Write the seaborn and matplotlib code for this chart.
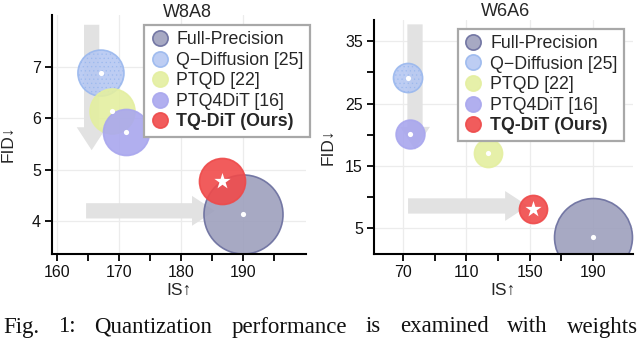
import numpy as np
import pandas as pd
import matplotlib
matplotlib.use("Agg")
import matplotlib.pyplot as plt
import seaborn as sns
from matplotlib.lines import Line2D

methods = ["Full-Precision", "Q\u2212Diffusion [25]", "PTQD [22]", "PTQ4DiT [16]", "TQ-DiT (Ours)"]
w8a8_is = [190.0, 167.1, 168.9, 171.1, 186.6]
w8a8_fid = [4.14, 6.88, 6.14, 5.73, 4.78]
w8a8_size = [3240, 1100, 1050, 1100, 1100]
w6a6_is = [190.0, 73.2, 123.7, 74.4, 152.3]
w6a6_fid = [3.7, 29.1, 17.1, 20.2, 8.1]
w6a6_size = [3150, 440, 410, 430, 410]

face_colors = ["#9ea0bd", "#b6c8f2", "#e4efa0", "#a9a7ee", "#f04a4a"]
edge_colors = ["#6a6e9e", "#9ab8ee", "#e4efa0", "#a9a7ee", "#ee4a4a"]

w8a8_xticks = [160, 170, 180, 190]
w8a8_yticks = [4, 5, 6, 7]
w6a6_xticks = [70, 110, 150, 190]
w6a6_yticks = [5, 15, 25, 35]

# arrows (start, tip) in data units
w8a8_arrows = [((165.6, 7.82), (165.6, 5.38)), ((164.7, 4.2), (185.5, 4.2))]
w6a6_arrows = [((77.6, 37.7), (77.6, 17.6)), ((73.2, 8.6), (149.0, 8.6))]

caption = "Fig. 1: Quantization performance is examined with weights"

sns.set_theme(style="ticks")
plt.rcParams["font.family"] = ["Liberation Sans", "DejaVu Sans"]
plt.rcParams["hatch.linewidth"] = 0.4

fig = plt.figure(figsize=(6.4, 3.39), dpi=100)
H = 339.0
W = 640.0
ax1 = fig.add_axes([52 / W, 1 - 254 / H, (306 - 52) / W, (254 - 15) / H])
ax2 = fig.add_axes([374 / W, 1 - 254 / H, (633 - 374) / W, (254 - 20) / H])


def draw(ax, xs, ys, sizes, xticks, yticks, xlim, ylim, minor_x, minor_y, arrows, title, title_xy, leg_anchor):
    ax.set_xlim(*xlim)
    ax.set_ylim(*ylim)
    ax.set_xticks(xticks)
    ax.set_yticks(yticks)
    ax.set_xticks(minor_x, minor=True)
    if minor_y is not None:
        ax.set_yticks(minor_y, minor=True)
    ax.grid(True, which="major", color="#ececec", linewidth=0.9, zorder=0)
    ax.set_axisbelow(True)
    for (sx, sy), (tx, ty) in arrows:
        ax.annotate("", xy=(tx, ty), xytext=(sx, sy),
                    arrowprops=dict(arrowstyle="simple,head_length=16.5,head_width=21.5,tail_width=11",
                                    mutation_scale=1, color="#e2e2e2", shrinkA=0, shrinkB=0, lw=0),
                    zorder=1)
    df = pd.DataFrame({"IS": xs, "FID": ys, "method": methods, "size": sizes})
    for i, row in df.iterrows():
        hatch = "...." if i == 1 else None
        sns.scatterplot(x=[row["IS"]], y=[row["FID"]], ax=ax, s=row["size"],
                        color=face_colors[i], edgecolor=edge_colors[i], linewidth=1.2,
                        alpha=0.9, zorder=2 + i * 0.1, legend=False)
        if hatch:
            ax.collections[-1].set_hatch(hatch)
    sub = df.iloc[:4]
    sns.scatterplot(data=sub, x="IS", y="FID", ax=ax, s=14, color="white", linewidth=0,
                    zorder=4, legend=False)
    sns.scatterplot(x=[df["IS"].iloc[4]], y=[df["FID"].iloc[4]], ax=ax, marker="*", s=150,
                    color="white", linewidth=0, zorder=4, legend=False)
    ax.set_xlabel("IS\u2191", fontsize=12.5, labelpad=2)
    ax.set_ylabel("FID\u2193", fontsize=12.5, labelpad=4)
    ax.tick_params(axis="both", which="both", direction="out", length=5, width=1.3,
                   labelsize=11.5, color="black", labelcolor="#111111", pad=3)
    for s in ["left", "bottom"]:
        ax.spines[s].set_linewidth(1.5)
        ax.spines[s].set_color("black")
    for s in ["top", "right"]:
        ax.spines[s].set_visible(False)
    ax.text(title_xy[0], title_xy[1], title, transform=ax.transAxes, fontsize=13,
            ha="center", va="baseline", clip_on=False)
    handles = [Line2D([], [], ls="", marker="o", markersize=11, markerfacecolor=face_colors[i],
                      markeredgecolor=edge_colors[i], markeredgewidth=1.2, alpha=0.9) for i in range(5)]
    leg = ax.legend(handles, methods, loc="upper right", bbox_to_anchor=leg_anchor, fontsize=12.8,
                    frameon=True, fancybox=False, framealpha=1, edgecolor="#a8a8a8",
                    handlelength=1.0, handletextpad=0.45, labelspacing=0.2, borderpad=0.35,
                    borderaxespad=0)
    leg.get_frame().set_linewidth(1.6)
    leg.get_texts()[4].set_fontweight("bold")
    leg.set_zorder(10)


draw(ax1, w8a8_is, w8a8_fid, w8a8_size, w8a8_xticks, w8a8_yticks, (159.2, 200.2), (3.36, 8.01),
     [165, 175, 185, 195], None, w8a8_arrows, "W8A8", (0.535, 0.9937), (1.016, 0.958))
draw(ax2, w6a6_is, w6a6_fid, w6a6_size, w6a6_xticks, w6a6_yticks, (51.7, 215.3), (0.9, 38.4),
     [90, 130, 170], [10, 20, 30], w6a6_arrows, "W6A6", (0.506, 1.015), (0.965, 0.962))
ax1.yaxis.set_label_coords(-0.142, 0.46)
ax2.yaxis.set_label_coords(-0.15, 0.46)

# justified caption line
fig.canvas.draw()
renderer = fig.canvas.get_renderer()
words = caption.split(" ")
texts = [fig.text(0, 1 - 332.5 / H, w, family=["Liberation Serif", "DejaVu Serif"], fontsize=16.5,
                  va="baseline", ha="left", color="#111111") for w in words]
widths = [t.get_window_extent(renderer).width for t in texts]
x0, x1 = 3.0, 638.0
gap = (x1 - x0 - sum(widths)) / (len(words) - 1)
x = x0
for t, wdt in zip(texts, widths):
    t.set_x(x / W)
    x += wdt + gap

fig.savefig("out.png", dpi=100)
